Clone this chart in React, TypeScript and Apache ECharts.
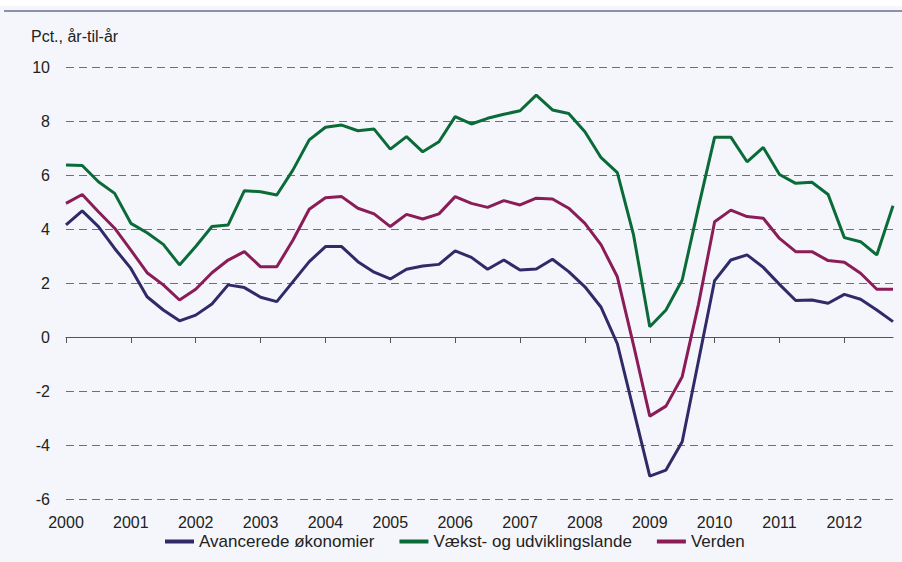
import React, { useEffect, useRef } from "react";
import * as echarts from "echarts";

const years = ["2000","2001","2002","2003","2004","2005","2006","2007","2008","2009","2010","2011","2012"];
const quarters = years.flatMap((y) => [y + "K1", y + "K2", y + "K3", y + "K4"]);

const avancerede = [
  4.15, 4.67, 4.09, 3.28, 2.54, 1.49, 1.0, 0.6,
  0.81, 1.22, 1.93, 1.83, 1.47, 1.31, 2.05, 2.79,
  3.35, 3.35, 2.79, 2.4, 2.15, 2.51, 2.63, 2.69,
  3.19, 2.95, 2.51, 2.85, 2.48, 2.52, 2.88, 2.42,
  1.86, 1.1, -0.25, -2.7, -5.15, -4.93, -3.88, -0.9,
  2.09, 2.85, 3.04, 2.58, 1.95, 1.35, 1.37, 1.25,
  1.58, 1.4, 1.0, 0.57,
];
const vaekst = [
  6.37, 6.35, 5.75, 5.32, 4.21, 3.86, 3.43, 2.67,
  3.35, 4.09, 4.15, 5.42, 5.38, 5.26, 6.19, 7.3,
  7.77, 7.85, 7.64, 7.7, 6.96, 7.42, 6.86, 7.23,
  8.16, 7.89, 8.1, 8.25, 8.38, 8.96, 8.41, 8.28,
  7.6, 6.64, 6.09, 3.78, 0.38, 1.0, 2.11, 4.8,
  7.4, 7.4, 6.49, 7.02, 6.02, 5.69, 5.73, 5.28,
  3.68, 3.53, 3.04, 4.86,
];
const verden = [
  4.95, 5.28, 4.64, 4.03, 3.22, 2.38, 1.93, 1.37,
  1.77, 2.38, 2.85, 3.16, 2.6, 2.6, 3.59, 4.73,
  5.16, 5.2, 4.77, 4.56, 4.09, 4.54, 4.37, 4.56,
  5.2, 4.95, 4.8, 5.05, 4.89, 5.14, 5.11, 4.77,
  4.21, 3.41, 2.23, -0.3, -2.93, -2.56, -1.47, 1.2,
  4.27, 4.7, 4.46, 4.4, 3.65, 3.16, 3.16, 2.83,
  2.77, 2.36, 1.77, 1.77,
];

const seriesNames = ["Avancerede økonomier", "Vækst- og udviklingslande", "Verden"];
const seriesColors = ["#302a68", "#0b6b38", "#8a1c58"];
const yTitle = "Pct., år-til-år";

export default function App() {
  const ref = useRef<HTMLDivElement>(null);
  useEffect(() => {
    if (!ref.current) return;
    const chart = echarts.init(ref.current, null, { renderer: "svg" });
    const font = "Liberation Sans, Arial, sans-serif";
    const data = [avancerede, vaekst, verden];
    chart.setOption({
      animation: false,
      backgroundColor: "#f4f6fb",
      textStyle: { fontFamily: font },
      graphic: [
        { type: "rect", shape: { x: 0, y: 0, width: 902, height: 6 }, style: { fill: "#ffffff" } },
        { type: "line", shape: { x1: 4, y1: 11, x2: 902, y2: 11 }, style: { stroke: "#6b6e8e", lineWidth: 1.5 } },
        {
          type: "text", left: 31, top: 28,
          style: { text: yTitle, fontSize: 16, fill: "#222", fontFamily: font },
        },
      ],
      legend: {
        data: seriesNames,
        bottom: 7,
        left: 160,
        icon: "rect",
        itemWidth: 29,
        itemHeight: 4,
        itemGap: 25,
        textStyle: { fontSize: 17, color: "#222", fontFamily: font },
      },
      grid: { left: 66, right: 9, top: 67, bottom: 63, containLabel: false },
      xAxis: [
        {
          type: "category",
          data: quarters,
          boundaryGap: false,
          position: "bottom",
          axisLine: { show: false },
          axisTick: { show: false },
          splitLine: { show: false },
          axisLabel: {
            interval: 3,
            margin: 15,
            fontSize: 16,
            color: "#222",
            fontFamily: font,
            formatter: (v: string) => v.slice(0, 4),
          },
        },
        {
          type: "category",
          data: quarters,
          boundaryGap: false,
          position: "bottom",
          axisLine: { show: true, onZero: true, onZeroAxisIndex: 0, lineStyle: { color: "#555", width: 1 } },
          axisTick: { show: true, interval: 3, length: 6, inside: false, lineStyle: { color: "#555" } },
          axisLabel: { show: false },
          splitLine: { show: false },
        },
      ],
      yAxis: {
        type: "value",
        min: -6,
        max: 10,
        interval: 2,
        axisLine: { show: false },
        axisTick: { show: false },
        axisLabel: { fontSize: 16, color: "#222", margin: 16, fontFamily: font },
        splitLine: { lineStyle: { type: [8, 5], color: "#707070", width: 1.2 } },
      },
      series: seriesNames.map((name, i) => ({
        name,
        type: "line",
        data: data[i],
        xAxisIndex: 0,
        symbol: "none",
        lineStyle: { color: seriesColors[i], width: 3 },
        itemStyle: { color: seriesColors[i] },
        z: 3,
      })),
    });
    return () => chart.dispose();
  }, []);
  return (
    <div
      ref={ref}
      style={{ position: "absolute", left: 0, top: 0, width: 902, height: 562 }}
    />
  );
}
